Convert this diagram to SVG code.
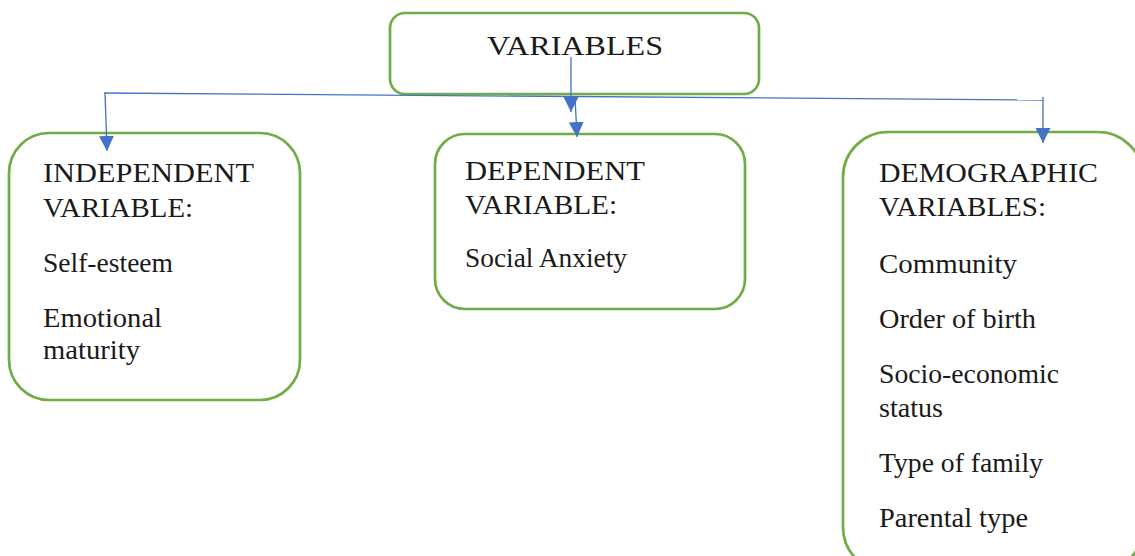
<svg xmlns="http://www.w3.org/2000/svg" width="1135" height="556" viewBox="0 0 1135 556">
<defs>
<marker id="arr" viewBox="0 0 10 10" refX="10" refY="5" markerWidth="15" markerHeight="16" markerUnits="userSpaceOnUse" orient="auto">
<path d="M0,0 L10,5 L0,10 Z" fill="#4472C4"/>
</marker>
<style>
.box{fill:#fff;stroke:#70AD47;stroke-width:2.7}
.t{font-size:28px;fill:#1a1a1a}
.c{stroke:#4472C4;stroke-width:1.3;fill:none}
</style>
</defs>
<rect width="1135" height="556" fill="#fff"/>
<g font-family="Liberation Serif, DejaVu Serif, serif">
<g id="node-variables">
<rect class="box" x="390" y="13" width="369" height="81" rx="15"/>
<text class="t" x="487" y="55" font-size="30" textLength="176" lengthAdjust="spacingAndGlyphs">VARIABLES</text>
</g>
<g id="node-independent">
<rect class="box" x="9" y="133" width="291" height="267" rx="40"/>
<text class="t" x="43" y="182" textLength="211" lengthAdjust="spacingAndGlyphs">INDEPENDENT</text>
<text class="t" x="43" y="217" textLength="150" lengthAdjust="spacingAndGlyphs">VARIABLE:</text>
<text class="t" x="43" y="272" textLength="130" lengthAdjust="spacingAndGlyphs">Self-esteem</text>
<text class="t" x="43" y="327" textLength="119" lengthAdjust="spacingAndGlyphs">Emotional</text>
<text class="t" x="43" y="359" textLength="97" lengthAdjust="spacingAndGlyphs">maturity</text>
</g>
<g id="node-dependent">
<rect class="box" x="435" y="134" width="310" height="175" rx="30"/>
<text class="t" x="465" y="180" textLength="180" lengthAdjust="spacingAndGlyphs">DEPENDENT</text>
<text class="t" x="465" y="214" textLength="152" lengthAdjust="spacingAndGlyphs">VARIABLE:</text>
<text class="t" x="465" y="267" textLength="162" lengthAdjust="spacingAndGlyphs">Social Anxiety</text>
</g>
<g id="node-demographic">
<rect class="box" x="843" y="132" width="300" height="440" rx="45"/>
<text class="t" x="879" y="182" textLength="219" lengthAdjust="spacingAndGlyphs">DEMOGRAPHIC</text>
<text class="t" x="879" y="216" textLength="167" lengthAdjust="spacingAndGlyphs">VARIABLES:</text>
<text class="t" x="879" y="273" textLength="138" lengthAdjust="spacingAndGlyphs">Community</text>
<text class="t" x="879" y="328" textLength="157" lengthAdjust="spacingAndGlyphs">Order of birth</text>
<text class="t" x="879" y="383" textLength="180" lengthAdjust="spacingAndGlyphs">Socio-economic</text>
<text class="t" x="879" y="417" textLength="64" lengthAdjust="spacingAndGlyphs">status</text>
<text class="t" x="879" y="472" textLength="164" lengthAdjust="spacingAndGlyphs">Type of family</text>
<text class="t" x="879" y="527" textLength="149" lengthAdjust="spacingAndGlyphs">Parental type</text>
</g>
</g>
<g id="connectors">
<path class="c" d="M571,57 L571,112" marker-end="url(#arr)"/>
<path class="c" d="M104,93 L1043,100"/>
<path class="c" d="M105,93 L107,151" marker-end="url(#arr)"/>
<path class="c" d="M575,97 L577,137" marker-end="url(#arr)"/>
<path class="c" d="M1043,97 L1043,143" marker-end="url(#arr)"/>
</g>
</svg>
